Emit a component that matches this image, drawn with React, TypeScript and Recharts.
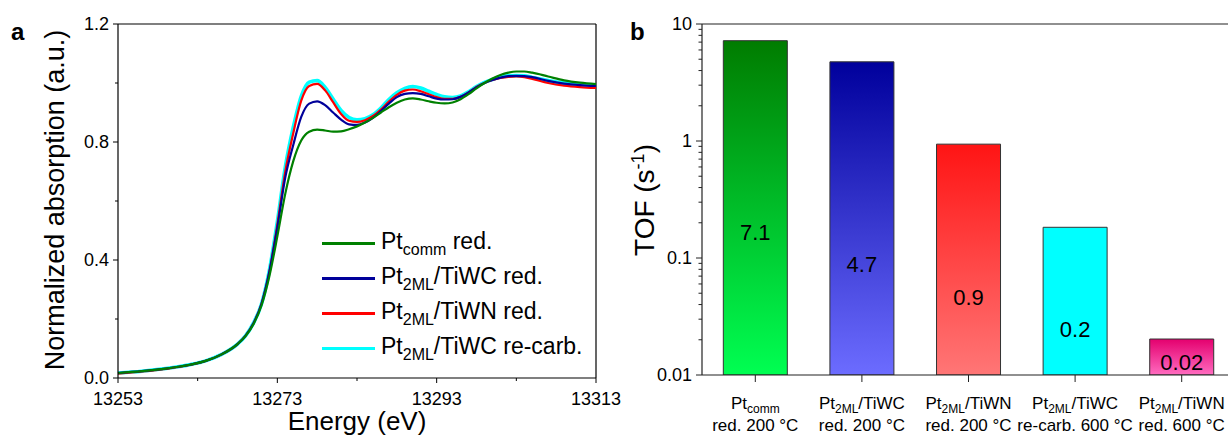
import { LineChart, Line, XAxis, YAxis, Legend, ReferenceLine, BarChart, Bar, Cell, LabelList } from "recharts";

// panel a: Pt L3-edge XANES
const ENERGY = [13253, 13256, 13259, 13262, 13264, 13266, 13268, 13269, 13270, 13271, 13272, 13273, 13274, 13275, 13276, 13277, 13278, 13279, 13280, 13281, 13282, 13283, 13284, 13285, 13286, 13287, 13288, 13289, 13290, 13291, 13292, 13293, 13294, 13295, 13296, 13297, 13298, 13299, 13300, 13301, 13302, 13303, 13304, 13305, 13307, 13309, 13311, 13313];
const PT_COMM = [0.017, 0.023, 0.032, 0.045, 0.058, 0.08, 0.115, 0.142, 0.182, 0.245, 0.345, 0.48, 0.625, 0.735, 0.805, 0.835, 0.842, 0.839, 0.835, 0.836, 0.843, 0.853, 0.866, 0.882, 0.9, 0.918, 0.933, 0.944, 0.948, 0.944, 0.938, 0.933, 0.931, 0.934, 0.945, 0.962, 0.982, 1.0, 1.015, 1.027, 1.035, 1.039, 1.039, 1.035, 1.022, 1.009, 1.001, 0.996];
const TIWC_RED = [0.017, 0.023, 0.032, 0.045, 0.058, 0.08, 0.115, 0.143, 0.185, 0.25, 0.36, 0.51, 0.68, 0.79, 0.885, 0.93, 0.938, 0.925, 0.9, 0.876, 0.86, 0.858, 0.866, 0.882, 0.905, 0.93, 0.952, 0.963, 0.966, 0.963, 0.955, 0.947, 0.944, 0.945, 0.953, 0.968, 0.986, 1.0, 1.01, 1.018, 1.023, 1.024, 1.023, 1.02, 1.007, 0.998, 0.993, 0.99];
const TIWN_RED = [0.015, 0.022, 0.031, 0.044, 0.058, 0.08, 0.115, 0.143, 0.185, 0.25, 0.36, 0.52, 0.7, 0.83, 0.94, 0.99, 0.997, 0.975, 0.935, 0.895, 0.872, 0.868, 0.874, 0.888, 0.91, 0.937, 0.96, 0.974, 0.978, 0.972, 0.962, 0.952, 0.946, 0.946, 0.953, 0.968, 0.987, 1.0, 1.01, 1.017, 1.021, 1.022, 1.02, 1.014, 1.0, 0.991, 0.986, 0.983];
const TIWC_RECARB = [0.017, 0.023, 0.032, 0.045, 0.058, 0.08, 0.115, 0.143, 0.186, 0.25, 0.365, 0.53, 0.715, 0.85, 0.955, 1.003, 1.008, 0.985, 0.946, 0.907, 0.883, 0.875, 0.879, 0.892, 0.915, 0.944, 0.967, 0.982, 0.988, 0.983, 0.972, 0.961, 0.953, 0.951, 0.956, 0.97, 0.988, 1.002, 1.012, 1.02, 1.024, 1.025, 1.024, 1.019, 1.008, 1.0, 0.996, 0.994];

const E_TICKS = [13253, 13263, 13273, 13283, 13293, 13303, 13313];
const A_TICKS = [0, 0.2, 0.4, 0.6, 0.8, 1.0, 1.2];

// panel b: TOF
const CAT_SUB = ["comm", "2ML", "2ML", "2ML", "2ML"];
const CAT_SUPPORT = ["", "/TiWC", "/TiWN", "/TiWC", "/TiWN"];
const CAT_COND = ["red. 200 °C", "red. 200 °C", "red. 200 °C", "re-carb. 600 °C", "red. 600 °C"];
const TOF = [7.2, 4.75, 0.94, 0.183, 0.0203];
const TOF_LABELS = ["7.1", "4.7", "0.9", "0.2", "0.02"];
const TOF_TICKS = [0.01, 0.02, 0.03, 0.04, 0.05, 0.06, 0.07, 0.08, 0.09, 0.1, 0.2, 0.3, 0.4, 0.5, 0.6, 0.7, 0.8, 0.9, 1, 2, 3, 4, 5, 6, 7, 8, 9, 10];

const BAR_GRADS = [
  ["#007c00", "#00ff52"],
  ["#00009c", "#6c6cff"],
  ["#ff1414", "#ff7676"],
  ["#00ffff", "#00ffff"],
  ["#e4006e", "#ff6cc0"],
];

const SERIES = [
  { key: "comm", sub: "comm", rest: " red.", color: "#008000", width: 2.2, legend: 2.8 },
  { key: "tiwc", sub: "2ML", rest: "/TiWC red.", color: "#00009a", width: 2.2, legend: 2.8 },
  { key: "tiwn", sub: "2ML", rest: "/TiWN red.", color: "#ff0000", width: 2.2, legend: 2.8 },
  { key: "recarb", sub: "2ML", rest: "/TiWC re-carb.", color: "#00ffff", width: 3.6, legend: 3.6 },
];

const xanes = ENERGY.map((e, i) => ({
  e,
  comm: PT_COMM[i],
  tiwc: TIWC_RED[i],
  tiwn: TIWN_RED[i],
  recarb: TIWC_RECARB[i],
}));

const tofData = TOF.map((v, i) => ({ cat: `c${i}`, tof: v }));

const EnergyTick = (props: any) => {
  const { x, y, payload } = props;
  const major = (payload.value - 13253) % 20 === 0;
  return (
    <g>
      <line x1={x} x2={x} y1={y} y2={y + (major ? 5 : 3)} stroke="#000" />
      {major && (
        <text x={x} y={y + 27} textAnchor="middle" fontSize={18} fill="#000">
          {payload.value}
        </text>
      )}
    </g>
  );
};

const AbsTick = (props: any) => {
  const { x, y, payload } = props;
  const major = Math.round(payload.value * 10) % 4 === 0;
  return (
    <g>
      <line x1={x} x2={x - (major ? 5 : 3)} y1={y} y2={y} stroke="#000" />
      {major && (
        <text x={x - 9} y={y} dy="0.36em" textAnchor="end" fontSize={18} fill="#000">
          {payload.value.toFixed(1)}
        </text>
      )}
    </g>
  );
};

const TofTick = (props: any) => {
  const { x, y, payload } = props;
  const lg = Math.log10(payload.value);
  const major = Math.abs(lg - Math.round(lg)) < 1e-6;
  return (
    <g>
      <line x1={x} x2={x - (major ? 6 : 3.5)} y1={y} y2={y} stroke="#222" />
      {major && (
        <text x={x - 10} y={y} dy="0.36em" textAnchor="end" fontSize={18} fill="#000">
          {String(payload.value)}
        </text>
      )}
    </g>
  );
};

const CatTick = (props: any) => {
  const { x, y, payload } = props;
  const i = Number(String(payload.value).slice(1));
  return (
    <g>
      <line x1={x} x2={x} y1={y} y2={y + 7} stroke="#222" />
      <text x={x} y={y + 34} textAnchor="middle" fontSize={17} fill="#000">
        Pt
        <tspan dy={4} fontSize={12}>{CAT_SUB[i]}</tspan>
        <tspan dy={-4}>{CAT_SUPPORT[i]}</tspan>
      </text>
      <text x={x} y={y + 56} textAnchor="middle" fontSize={17} fill="#000">
        {CAT_COND[i]}
      </text>
    </g>
  );
};

const TofValue = (props: any) => {
  const { x, y, width, height, index } = props;
  const lift = 13 + (TOF_LABELS.length - 1 - index) * 32.5;
  return (
    <text x={x + width / 2} y={y + height - lift} dy="0.36em" textAnchor="middle" fontSize={22} fill="#000">
      {TOF_LABELS[index]}
    </text>
  );
};

const XanesLegend = () => (
  <div style={{ fontSize: 23, color: "#000" }}>
    {SERIES.map((s) => (
      <div key={s.key} style={{ display: "flex", alignItems: "center", height: 35, whiteSpace: "nowrap" }}>
        <span style={{ display: "inline-block", width: 53, height: s.legend, background: s.color, marginRight: 6 }} />
        <span>
          Pt<span style={{ fontSize: 16, verticalAlign: -6 }}>{s.sub}</span>
          {s.rest}
        </span>
      </div>
    ))}
  </div>
);

export default function App() {
  return (
    <div
      style={{
        position: "absolute",
        left: 0,
        top: 0,
        width: 1228,
        height: 436,
        overflow: "hidden",
        background: "#fff",
        fontFamily: "'Liberation Sans', Arial, sans-serif",
      }}
    >
      <div style={{ position: "absolute", left: 0, top: 0 }}>
        <LineChart width={630} height={436} data={xanes} margin={{ top: 24, right: 34, left: 58, bottom: 28 }}>
          <XAxis
            dataKey="e"
            type="number"
            domain={[13253, 13313]}
            ticks={E_TICKS}
            interval={0}
            height={30}
            tickSize={0}
            tickMargin={0}
            tickLine={false}
            axisLine={{ stroke: "#000", strokeWidth: 1.2 }}
            tick={<EnergyTick />}
          />
          <YAxis
            type="number"
            domain={[0, 1.2]}
            ticks={A_TICKS}
            interval={0}
            width={60}
            tickSize={0}
            tickMargin={0}
            tickLine={false}
            axisLine={{ stroke: "#000", strokeWidth: 1.2 }}
            tick={<AbsTick />}
          />
          <ReferenceLine y={1.2} stroke="#000" strokeWidth={1.2} />
          <ReferenceLine x={13313} stroke="#000" strokeWidth={1.2} />
          {[...SERIES].reverse().map((s) => (
            <Line
              key={s.key}
              dataKey={s.key}
              type="monotone"
              stroke={s.color}
              strokeWidth={s.width}
              dot={false}
              isAnimationActive={false}
            />
          ))}
          <Legend
            layout="vertical"
            align="center"
            verticalAlign="middle"
            content={<XanesLegend />}
            wrapperStyle={{ left: 322, top: 226, width: "auto" }}
          />
        </LineChart>
      </div>

      <div style={{ position: "absolute", left: 610, top: 0 }}>
        <BarChart
          width={640}
          height={436}
          data={tofData}
          barCategoryGap="20%"
          margin={{ top: 24, right: 15, left: 32, bottom: 1 }}
        >
          <defs>
            {BAR_GRADS.map((g, i) => (
              <linearGradient key={i} id={`tofGrad${i}`} x1="0" y1="0" x2="0" y2="1">
                <stop offset="0%" stopColor={g[0]} />
                <stop offset="100%" stopColor={g[1]} />
              </linearGradient>
            ))}
          </defs>
          <XAxis
            dataKey="cat"
            height={60}
            interval={0}
            tickSize={0}
            tickMargin={0}
            tickLine={false}
            axisLine={{ stroke: "#222", strokeWidth: 1.2 }}
            tick={<CatTick />}
          />
          <YAxis
            scale="log"
            domain={[0.01, 10]}
            allowDataOverflow
            ticks={TOF_TICKS}
            interval={0}
            width={60}
            tickSize={0}
            tickMargin={0}
            tickLine={false}
            axisLine={{ stroke: "#222", strokeWidth: 1.2 }}
            tick={<TofTick />}
          />
          <ReferenceLine y={10} stroke="#222" strokeWidth={1.2} />
          <Bar dataKey="tof" isAnimationActive={false}>
            {tofData.map((_, i) => (
              <Cell key={i} fill={`url(#tofGrad${i})`} stroke="#333" strokeWidth={1} />
            ))}
            <LabelList dataKey="tof" content={<TofValue />} />
          </Bar>
        </BarChart>
      </div>

      <svg width={1228} height={436} style={{ position: "absolute", left: 0, top: 0, pointerEvents: "none" }}>
        <text x={11} y={40} fontSize={24} fontWeight="bold" fill="#000">a</text>
        <text x={630} y={40} fontSize={24} fontWeight="bold" fill="#000">b</text>
        <text x={357} y={430} fontSize={26} textAnchor="middle" fill="#000">Energy (eV)</text>
        <text transform="translate(64,200) rotate(-90)" fontSize={27} textAnchor="middle" fill="#000">
          Normalized absorption (a.u.)
        </text>
        <text transform="translate(654,200) rotate(-90)" fontSize={28} textAnchor="middle" fill="#000">
          TOF (s<tspan dy={-10} fontSize={18}>-1</tspan>
          <tspan dy={10}>)</tspan>
        </text>
      </svg>
    </div>
  );
}
